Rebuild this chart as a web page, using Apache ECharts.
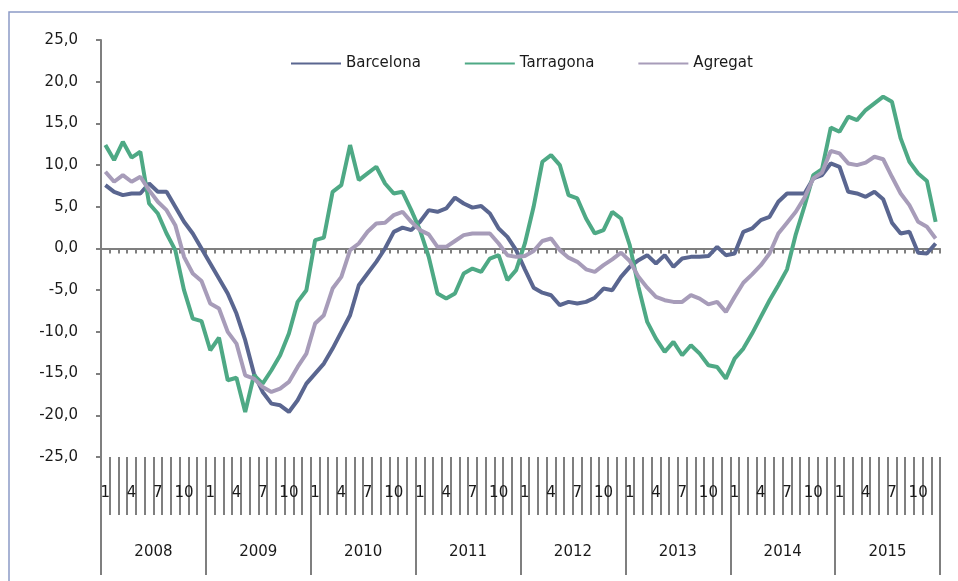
<!DOCTYPE html>
<html>
<head>
<meta charset="utf-8">
<script src="https://cdn.jsdelivr.net/npm/echarts@6/dist/echarts.min.js"></script>
<style>
  html, body { margin: 0; padding: 0; background: #fff; }
  #main { width: 958px; height: 581px; }
</style>
</head>
<body>
<div id="main"></div>
<script type="text/javascript">
    var years = ['2008', '2009', '2010', '2011', '2012', '2013', '2014', '2015'];
    var months = ['1', '2', '3', '4', '5', '6', '7', '8', '9', '10', '11', '12'];

    var barcelona = [
        7.6, 6.8, 6.4, 6.6, 6.6, 7.8, 6.8, 6.8, 5.0, 3.2, 1.8, 0.0,
        -1.8, -3.6, -5.4, -7.8, -11.0, -15.0, -17.2, -18.6, -18.8, -19.6, -18.2, -16.2,
        -15.0, -13.8, -12.0, -10.0, -8.0, -4.4, -3.0, -1.6, 0.0, 2.0, 2.5, 2.2,
        3.2, 4.6, 4.4, 4.8, 6.1, 5.4, 4.9, 5.1, 4.2, 2.4, 1.4, -0.2,
        -2.5, -4.7, -5.3, -5.6, -6.8, -6.4, -6.6, -6.4, -5.9, -4.8, -5.0, -3.4,
        -2.2, -1.4, -0.8, -1.8, -0.8, -2.2, -1.2, -1.0, -1.0, -0.9, 0.2, -0.8,
        -0.6, 2.0, 2.4, 3.4, 3.8, 5.6, 6.6, 6.6, 6.6, 8.4, 8.8, 10.2,
        9.8, 6.8, 6.6, 6.2, 6.8, 5.9, 3.1, 1.8, 2.0, -0.5, -0.6, 0.6
    ];
    var tarragona = [
        12.4, 10.6, 12.8, 10.9, 11.6, 5.4, 4.2, 1.8, -0.2, -5.0, -8.4, -8.7,
        -12.2, -10.7, -15.8, -15.5, -19.6, -15.2, -16.2, -14.6, -12.8, -10.2, -6.4, -5.0,
        1.0, 1.3, 6.8, 7.6, 12.4, 8.2, 9.0, 9.8, 7.8, 6.6, 6.8, 4.6,
        2.2, -1.0, -5.4, -6.0, -5.4, -3.0, -2.4, -2.8, -1.2, -0.8, -3.8, -2.6,
        0.6, 5.0, 10.4, 11.2, 10.0, 6.4, 6.0, 3.6, 1.8, 2.2, 4.4, 3.6,
        0.4, -4.6, -8.8, -10.8, -12.4, -11.2, -12.8, -11.6, -12.6, -14.0, -14.2, -15.6,
        -13.2, -12.0, -10.2, -8.2, -6.2, -4.4, -2.5, 1.7, 5.1, 8.8, 9.5, 14.5,
        14.0, 15.8, 15.4, 16.6, 17.4, 18.2, 17.6, 13.2, 10.4, 9.0, 8.1, 3.2
    ];
    var agregat = [
        9.2, 8.0, 8.8, 8.0, 8.6, 7.0, 5.6, 4.6, 2.8, -1.0, -3.0, -3.9,
        -6.6, -7.2, -10.0, -11.4, -15.2, -15.6, -16.6, -17.2, -16.8, -16.0, -14.2, -12.6,
        -9.0, -8.0, -4.8, -3.4, -0.2, 0.6, 2.0, 3.0, 3.1, 4.0, 4.4, 3.2,
        2.2, 1.7, 0.2, 0.2, 0.9, 1.6, 1.8, 1.8, 1.8, 0.6, -0.8, -1.0,
        -0.9, -0.3, 0.9, 1.2, -0.2, -1.1, -1.6, -2.5, -2.8, -2.0, -1.3, -0.5,
        -1.5, -3.4, -4.7, -5.8, -6.2, -6.4, -6.4, -5.6, -6.0, -6.7, -6.4, -7.6,
        -5.8, -4.1, -3.1, -2.0, -0.6, 1.8, 3.1, 4.4, 6.1, 8.4, 9.1, 11.7,
        11.4, 10.2, 10.0, 10.3, 11.0, 10.7, 8.6, 6.6, 5.2, 3.2, 2.6, 1.2
    ];

    // one category per month, "2008-1" ... "2015-12"
    var cats = [];
    years.forEach(function (y) {
        months.forEach(function (m) { cats.push(y + '-' + m); });
    });

    var font = 'DejaVu Sans';
    var axisGray = '#7f7f7f';

    var myChart = echarts.init(document.getElementById('main'));
    var option = {
        backgroundColor: '#ffffff',
        animation: false,
        textStyle: { fontFamily: font },
        graphic: [{
            type: 'rect',
            shape: { x: 9, y: 12, width: 1000, height: 700 },
            style: { fill: 'none', stroke: '#8c9bc6', lineWidth: 1.5 }
        }],
        legend: {
            data: ['Barcelona', 'Tarragona', 'Agregat'],
            left: 286,
            top: 51,
            icon: 'rect',
            itemWidth: 50,
            itemHeight: 2,
            itemGap: 44,
            textStyle: { fontFamily: font, fontSize: 15, color: '#1a1a1a' }
        },
        grid: { left: 101, right: 18, top: 40, bottom: 124 },
        xAxis: [
            {
                // line through zero with small month ticks
                type: 'category',
                data: cats,
                position: 'bottom',
                boundaryGap: true,
                axisLine: { onZero: true, lineStyle: { color: axisGray, width: 2 } },
                axisTick: { show: true, interval: 0, length: 5, lineStyle: { color: axisGray, width: 2 } },
                axisLabel: { show: false },
                splitLine: { show: false }
            },
            {
                // month labels with long ticks at the bottom
                type: 'category',
                data: cats,
                position: 'bottom',
                offset: 0,
                boundaryGap: true,
                axisLine: { show: false, onZero: false },
                axisTick: { show: true, interval: 0, length: 58, lineStyle: { color: axisGray, width: 2 } },
                axisLabel: {
                    interval: function (index) { return index % 3 === 0; },
                    formatter: function (v) { return v.split('-')[1]; },
                    margin: 29,
                    fontFamily: font,
                    fontSize: 15,
                    color: '#1a1a1a'
                },
                splitLine: { show: false }
            },
            {
                // year row
                type: 'category',
                data: years,
                position: 'bottom',
                offset: 58,
                boundaryGap: true,
                axisLine: { show: false, onZero: false },
                axisTick: { show: true, interval: 0, length: 60, lineStyle: { color: axisGray, width: 2 } },
                axisLabel: { margin: 30, fontFamily: font, fontSize: 15, color: '#1a1a1a' },
                splitLine: { show: false }
            }
        ],
        yAxis: {
            type: 'value',
            min: -25,
            max: 25,
            interval: 5,
            axisLine: { show: true, lineStyle: { color: axisGray, width: 2 } },
            axisTick: { show: true, length: 5, lineStyle: { color: axisGray, width: 2 } },
            axisLabel: {
                margin: 23,
                fontFamily: font,
                fontSize: 15,
                color: '#1a1a1a',
                formatter: function (v) { return v.toFixed(1).replace('.', ','); }
            },
            splitLine: { show: false }
        },
        series: [
            {
                name: 'Barcelona', type: 'line', xAxisIndex: 0, data: barcelona,
                showSymbol: false, symbol: 'none',
                lineStyle: { width: 4, color: '#5a6690' }, itemStyle: { color: '#5a6690' }
            },
            {
                name: 'Tarragona', type: 'line', xAxisIndex: 0, data: tarragona,
                showSymbol: false, symbol: 'none',
                lineStyle: { width: 4, color: '#4ea985' }, itemStyle: { color: '#4ea985' }
            },
            {
                name: 'Agregat', type: 'line', xAxisIndex: 0, data: agregat,
                showSymbol: false, symbol: 'none',
                lineStyle: { width: 4, color: '#a79cb9' }, itemStyle: { color: '#a79cb9' }
            }
        ]
    };
    myChart.setOption(option);
</script>
</body>
</html>
